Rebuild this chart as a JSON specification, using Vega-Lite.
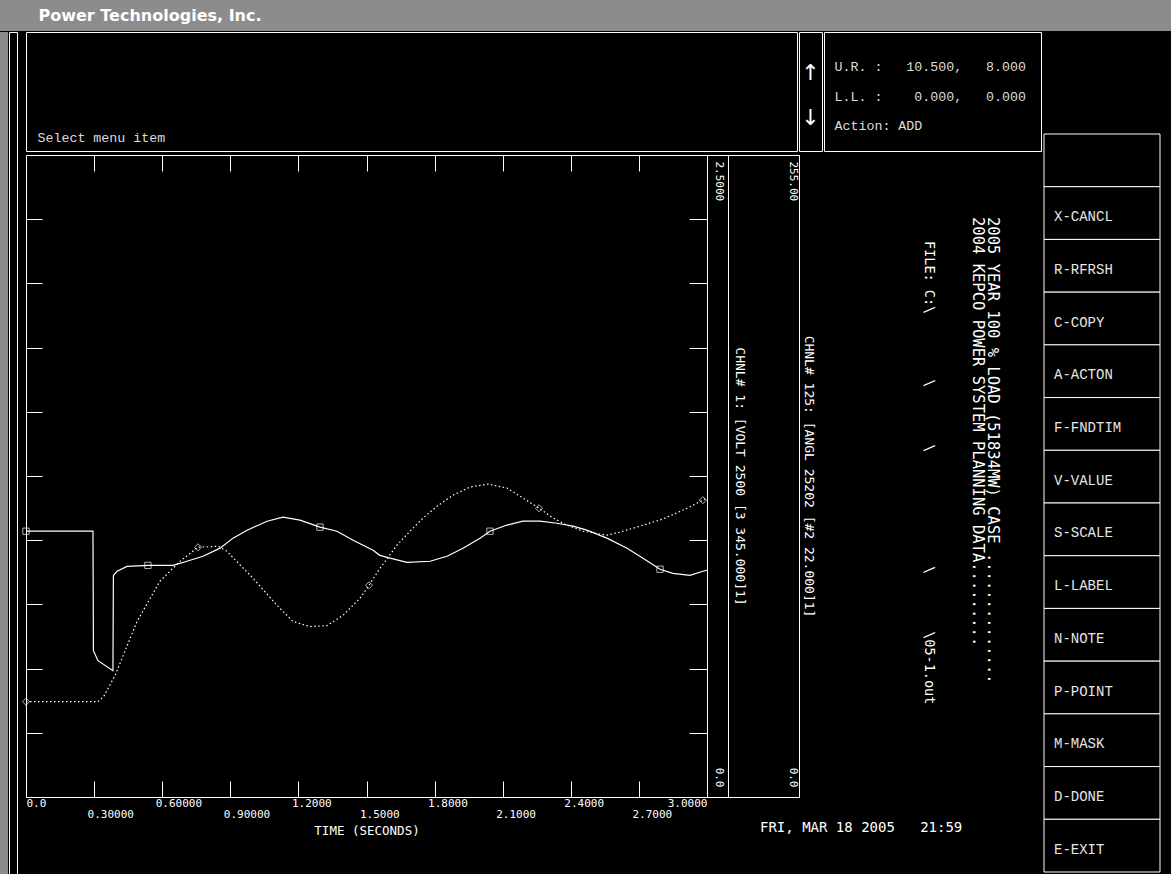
{
  "$schema": "https://vega.github.io/schema/vega-lite/v6.json",
  "background": "black",
  "padding": 0,
  "config": {
    "view": {"stroke": "white", "strokeWidth": 1},
    "concat": {"spacing": 0},
    "axis": {"domainColor": "white", "tickColor": "white", "labelColor": "white", "titleColor": "white", "labelFont": "DejaVu Sans Mono", "titleFont": "DejaVu Sans Mono", "titleFontWeight": "normal", "grid": false},
    "title": {"color": "white", "font": "DejaVu Sans Mono", "fontWeight": "normal"}
  },
  "datasets": {
    "volt": [
      {"t": 0, "v": 1.035}, {"t": 0.295, "v": 1.035}, {"t": 0.297, "v": 0.57}, {"t": 0.317, "v": 0.531},
      {"t": 0.383, "v": 0.492}, {"t": 0.385, "v": 0.863}, {"t": 0.401, "v": 0.879}, {"t": 0.445, "v": 0.898},
      {"t": 0.537, "v": 0.902}, {"t": 0.648, "v": 0.902}, {"t": 0.709, "v": 0.918}, {"t": 0.78, "v": 0.9375},
      {"t": 0.855, "v": 0.969}, {"t": 0.912, "v": 1.008}, {"t": 0.974, "v": 1.039}, {"t": 1.062, "v": 1.074},
      {"t": 1.132, "v": 1.09}, {"t": 1.207, "v": 1.078}, {"t": 1.295, "v": 1.051}, {"t": 1.37, "v": 1.035},
      {"t": 1.441, "v": 1.0}, {"t": 1.529, "v": 0.961}, {"t": 1.559, "v": 0.941}, {"t": 1.604, "v": 0.93},
      {"t": 1.678, "v": 0.914}, {"t": 1.78, "v": 0.918}, {"t": 1.855, "v": 0.9375}, {"t": 1.925, "v": 0.969},
      {"t": 2.0, "v": 1.008}, {"t": 2.044, "v": 1.035}, {"t": 2.119, "v": 1.059}, {"t": 2.189, "v": 1.074},
      {"t": 2.264, "v": 1.074}, {"t": 2.339, "v": 1.066}, {"t": 2.41, "v": 1.055}, {"t": 2.471, "v": 1.039},
      {"t": 2.559, "v": 1.008}, {"t": 2.648, "v": 0.969}, {"t": 2.718, "v": 0.93}, {"t": 2.793, "v": 0.887},
      {"t": 2.85, "v": 0.871}, {"t": 2.925, "v": 0.863}, {"t": 2.982, "v": 0.879}, {"t": 3.0, "v": 0.883}
    ],
    "angl": [
      {"t": 0, "a": 37.85}, {"t": 0.317, "a": 37.85}, {"t": 0.344, "a": 40.2}, {"t": 0.392, "a": 48.2},
      {"t": 0.489, "a": 69.7}, {"t": 0.59, "a": 85.7}, {"t": 0.678, "a": 93.6}, {"t": 0.758, "a": 99.2},
      {"t": 0.846, "a": 99.6}, {"t": 0.885, "a": 97.6}, {"t": 1.0, "a": 86.9}, {"t": 1.106, "a": 76.1},
      {"t": 1.176, "a": 69.7}, {"t": 1.251, "a": 67.7}, {"t": 1.326, "a": 68.1}, {"t": 1.396, "a": 72.1},
      {"t": 1.471, "a": 78.9}, {"t": 1.511, "a": 84.1}, {"t": 1.559, "a": 90.8}, {"t": 1.634, "a": 100.0},
      {"t": 1.692, "a": 105.6}, {"t": 1.749, "a": 110.8}, {"t": 1.811, "a": 115.5}, {"t": 1.881, "a": 119.9},
      {"t": 1.956, "a": 123.1}, {"t": 2.035, "a": 124.3}, {"t": 2.119, "a": 122.7}, {"t": 2.176, "a": 119.5},
      {"t": 2.26, "a": 114.7}, {"t": 2.322, "a": 110.8}, {"t": 2.383, "a": 108.0}, {"t": 2.454, "a": 105.6},
      {"t": 2.559, "a": 104.0}, {"t": 2.617, "a": 105.2}, {"t": 2.705, "a": 107.6}, {"t": 2.806, "a": 110.4},
      {"t": 2.912, "a": 114.7}, {"t": 2.982, "a": 117.9}, {"t": 3.0, "a": 118.7}
    ],
    "voltMarks": [
      {"t": 0, "v": 1.035}, {"t": 0.537, "v": 0.902}, {"t": 1.295, "v": 1.051}, {"t": 2.044, "v": 1.035}, {"t": 2.793, "v": 0.887}
    ],
    "anglMarks": [
      {"t": 0, "a": 37.85}, {"t": 0.758, "a": 99.2}, {"t": 1.511, "a": 84.1}, {"t": 2.26, "a": 114.7}, {"t": 2.982, "a": 117.9}
    ],
    "menu": [
      {"item": " "}, {"item": "X-CANCL"}, {"item": "R-RFRSH"}, {"item": "C-COPY"}, {"item": "A-ACTON"},
      {"item": "F-FNDTIM"}, {"item": "V-VALUE"}, {"item": "S-SCALE"}, {"item": "L-LABEL"}, {"item": "N-NOTE"},
      {"item": "P-POINT"}, {"item": "M-MASK"}, {"item": "D-DONE"}, {"item": "E-EXIT"}
    ],
    "info": [
      {"line": "U.R.\u00a0:\u00a0\u00a0\u00a010.500,\u00a0\u00a0\u00a08.000"},
      {"line": "L.L.\u00a0:\u00a0\u00a0\u00a0\u00a00.000,\u00a0\u00a0\u00a00.000"},
      {"line": "Action:\u00a0ADD"}
    ]
  },
  "vconcat": [
    {
      "width": 1171, "height": 31,
      "view": {"fill": "#8c8c8c", "stroke": null},
      "data": {"values": [{"label": "Power Technologies, Inc."}]},
      "mark": {"type": "text", "align": "left", "dx": -547, "color": "white", "font": "DejaVu Sans", "fontWeight": "bold", "fontSize": 16},
      "encoding": {"text": {"field": "label"}}
    },
    {
      "spacing": 0,
      "hconcat": [
        {
          "width": 8, "height": 843,
          "view": {"fill": "#8c8c8c", "stroke": null},
          "data": {"values": [{}]},
          "mark": "text",
          "encoding": {"text": {"value": ""}}
        },
        {
          "width": 8, "height": 843,
          "view": {"stroke": "white", "strokeWidth": 1},
          "data": {"values": [{}]},
          "mark": "text",
          "encoding": {"text": {"value": ""}}
        },
        {
          "spacing": 2,
          "vconcat": [
            {
              "spacing": 0,
              "hconcat": [
                {
                  "width": 771, "height": 119,
                  "view": {"stroke": "white", "strokeWidth": 1, "fill": "black"},
                  "data": {"values": [{"t": "Select menu item"}]},
                  "mark": {"type": "text", "align": "left", "dx": -374, "dy": 46, "font": "Liberation Mono", "fontSize": 13.3, "color": "#dddddd"},
                  "encoding": {"text": {"field": "t"}}
                },
                {
                  "width": 23, "height": 119,
                  "data": {"values": [{"a": "↑"}, {"a": "↓"}]},
                  "mark": {"type": "text", "fontSize": 22, "color": "white", "font": "DejaVu Sans", "dy": 4},
                  "encoding": {
                    "y": {"field": "a", "type": "nominal", "sort": null, "axis": null, "scale": {"type": "point", "padding": 0.8}},
                    "text": {"field": "a"}
                  }
                },
                {
                  "width": 217, "height": 119,
                  "data": {"name": "info"},
                  "mark": {"type": "text", "align": "left", "dx": -98, "dy": 5, "font": "Liberation Mono", "fontSize": 13.3, "color": "#dddddd"},
                  "encoding": {
                    "y": {"field": "line", "type": "nominal", "sort": null, "axis": null, "scale": {"type": "point", "padding": 1.5}},
                    "text": {"field": "line"}
                  }
                }
              ]
            },
            {
              "spacing": 0,
              "bounds": "flush",
              "hconcat": [
                {
                  "width": 681, "height": 642,
                  "resolve": {"scale": {"y": "independent"}, "axis": {"x": "independent", "y": "independent"}},
                  "layer": [
                    {
                      "data": {"name": "volt"},
                      "mark": {"type": "line", "color": "white", "strokeWidth": 1.2},
                      "encoding": {
                        "x": {
                          "field": "t", "type": "quantitative",
                          "scale": {"domain": [0, 3], "nice": false, "zero": false},
                          "axis": {
                            "orient": "bottom",
                            "values": [0, 0.3, 0.6, 0.9, 1.2, 1.5, 1.8, 2.1, 2.4, 2.7, 3.0],
                            "domain": false, "tickSize": -16,
                            "labelExpr": "datum.value < 0.01 ? '0.0' : (datum.value < 1 ? format(datum.value, '.5f') : format(datum.value, '.4f'))",
                            "labelFontSize": 11,
                            "labelBaseline": "top",
                            "labelPadding": {"condition": {"test": "round(datum.value*10) % 6 == 3", "value": 27}, "value": 16},
                            "labelAlign": {"condition": {"test": "datum.value > 2.99", "value": "right"}, "value": "left"},
                            "labelOffset": {"condition": {"test": "datum.value > 0.01 && datum.value < 2.99", "value": -7}, "value": 0},
                            "labelFlush": false, "labelOverlap": false, "labelBound": false,
                            "title": "TIME (SECONDS)", "titleFontSize": 12.5, "titlePadding": 5
                          }
                        },
                        "y": {
                          "field": "v", "type": "quantitative",
                          "scale": {"domain": [0, 2.5], "nice": false},
                          "axis": {"orient": "left", "values": [0.25, 0.5, 0.75, 1.0, 1.25, 1.5, 1.75, 2.0, 2.25], "domain": false, "labels": false, "tickSize": -16, "minExtent": 7, "maxExtent": 7, "title": null}
                        }
                      }
                    },
                    {
                      "data": {"name": "voltMarks"},
                      "mark": {"type": "point", "shape": "square", "filled": false, "color": "white", "size": 40, "strokeWidth": 1},
                      "encoding": {
                        "x": {
                          "field": "t", "type": "quantitative",
                          "scale": {"domain": [0, 3], "nice": false, "zero": false},
                          "axis": {"orient": "top", "values": [0.3, 0.6, 0.9, 1.2, 1.5, 1.8, 2.1, 2.4, 2.7], "domain": false, "labels": false, "tickSize": -16, "title": null, "minExtent": 0, "maxExtent": 0}
                        },
                        "y": {
                          "field": "v", "type": "quantitative",
                          "scale": {"domain": [0, 2.5], "nice": false},
                          "axis": {"orient": "right", "values": [0.25, 0.5, 0.75, 1.0, 1.25, 1.5, 1.75, 2.0, 2.25], "domain": false, "labels": false, "tickSize": -18, "title": null, "minExtent": 0, "maxExtent": 0}
                        }
                      }
                    },
                    {
                      "data": {"name": "angl"},
                      "mark": {"type": "line", "color": "white", "strokeWidth": 1.2, "strokeDash": [1.5, 2.5]},
                      "encoding": {
                        "x": {"field": "t", "type": "quantitative", "scale": {"domain": [0, 3], "nice": false, "zero": false}, "axis": null},
                        "y": {
                          "field": "a", "type": "quantitative",
                          "scale": {"domain": [0, 255], "nice": false},
                          "axis": {
                            "orient": "right", "offset": 92, "values": [0, 255],
                            "domain": true, "ticks": true, "tickSize": -92,
                            "labelExpr": "datum.value == 0 ? '0.0' : '255.00'",
                            "labelAngle": 90, "labelBaseline": "middle",
                            "labelAlign": {"condition": {"test": "datum.value > 0", "value": "left"}, "value": "right"},
                            "labelOffset": {"condition": {"test": "datum.value > 0", "value": 6}, "value": -10},
                            "labelPadding": 85, "labelFontSize": 11, "labelOverlap": false, "labelBound": false,
                            "title": "CHNL# 125: [ANGL 25202 [#2 22.000]1]",
                            "titleAngle": 90, "titleFontSize": 13, "titlePadding": 2
                          }
                        }
                      }
                    },
                    {
                      "data": {"name": "anglMarks"},
                      "mark": {"type": "point", "shape": "diamond", "filled": false, "color": "white", "size": 50, "strokeWidth": 1},
                      "encoding": {
                        "x": {"field": "t", "type": "quantitative", "scale": {"domain": [0, 3], "nice": false, "zero": false}, "axis": null},
                        "y": {
                          "field": "a", "type": "quantitative",
                          "scale": {"domain": [0, 255], "nice": false},
                          "axis": {
                            "orient": "right", "offset": 21, "values": [0, 255],
                            "domain": true, "ticks": false,
                            "labelExpr": "datum.value == 0 ? '0.0' : '2.5000'",
                            "labelAngle": 90, "labelBaseline": "middle",
                            "labelAlign": {"condition": {"test": "datum.value > 0", "value": "left"}, "value": "right"},
                            "labelOffset": {"condition": {"test": "datum.value > 0", "value": 6}, "value": -10},
                            "labelPadding": -10, "labelFontSize": 11, "labelOverlap": false, "labelBound": false,
                            "title": "CHNL# 1: [VOLT 2500 [3 345.000]1]",
                            "titleAngle": 90, "titleFontSize": 13, "titlePadding": 4
                          }
                        }
                      }
                    }
                  ]
                },
                {
                  "width": 336, "height": 642,
                  "view": {"stroke": null},
                  "title": {"text": "FRI, MAR 18 2005\u00a0\u00a0\u00a021:59", "orient": "bottom", "anchor": "start", "dx": 53, "offset": 24, "fontSize": 14, "font": "DejaVu Sans Mono", "color": "white", "fontWeight": "normal"},
                  "layer": [
                    {
                      "data": {"values": [{"t": "2005 YEAR 100 % LOAD (51834MW) CASE ..............|2004 KEPCO POWER SYSTEM PLANNING DATA........."}]},
                      "mark": {"type": "text", "angle": 90, "align": "left", "baseline": "alphabetic", "lineBreak": "|", "lineHeight": 15, "font": "DejaVu Sans Mono", "fontSize": 15.5, "color": "white", "dx": -259, "dy": -113},
                      "encoding": {"text": {"field": "t"}}
                    },
                    {
                      "data": {"values": [{"t": "FILE: C:\\\u00a0\u00a0\u00a0\u00a0\u00a0\u00a0\u00a0\u00a0\\\u00a0\u00a0\u00a0\u00a0\u00a0\u00a0\u00a0\\\u00a0\u00a0\u00a0\u00a0\u00a0\u00a0\u00a0\u00a0\u00a0\u00a0\u00a0\u00a0\u00a0\u00a0\\\u00a0\u00a0\u00a0\u00a0\u00a0\u00a0\u00a0\\05-1.out"}]},
                      "mark": {"type": "text", "angle": 90, "align": "left", "baseline": "alphabetic", "font": "DejaVu Sans Mono", "fontSize": 13.5, "color": "white", "dx": -235, "dy": -50},
                      "encoding": {"text": {"field": "t"}}
                    }
                  ]
                }
              ]
            }
          ]
        },
        {
          "spacing": 0,
          "vconcat": [
            {
              "width": 116, "height": 101,
              "view": {"stroke": null},
              "data": {"values": [{}]},
              "mark": "text",
              "encoding": {"text": {"value": ""}}
            },
            {
              "width": 116, "height": 738,
              "view": {"stroke": null},
              "data": {"name": "menu"},
              "layer": [
                {
                  "mark": {"type": "rect", "fill": "black", "stroke": "white", "strokeWidth": 1},
                  "encoding": {"y": {"field": "item", "type": "nominal", "sort": null, "axis": null, "scale": {"paddingInner": 0, "paddingOuter": 0}}}
                },
                {
                  "mark": {"type": "text", "align": "left", "dx": -48, "dy": 4, "font": "Liberation Mono", "fontSize": 14, "color": "#e6e6e6"},
                  "encoding": {
                    "y": {"field": "item", "type": "nominal", "sort": null, "axis": null, "scale": {"paddingInner": 0, "paddingOuter": 0}},
                    "text": {"field": "item"}
                  }
                }
              ]
            }
          ]
        }
      ]
    }
  ]
}
